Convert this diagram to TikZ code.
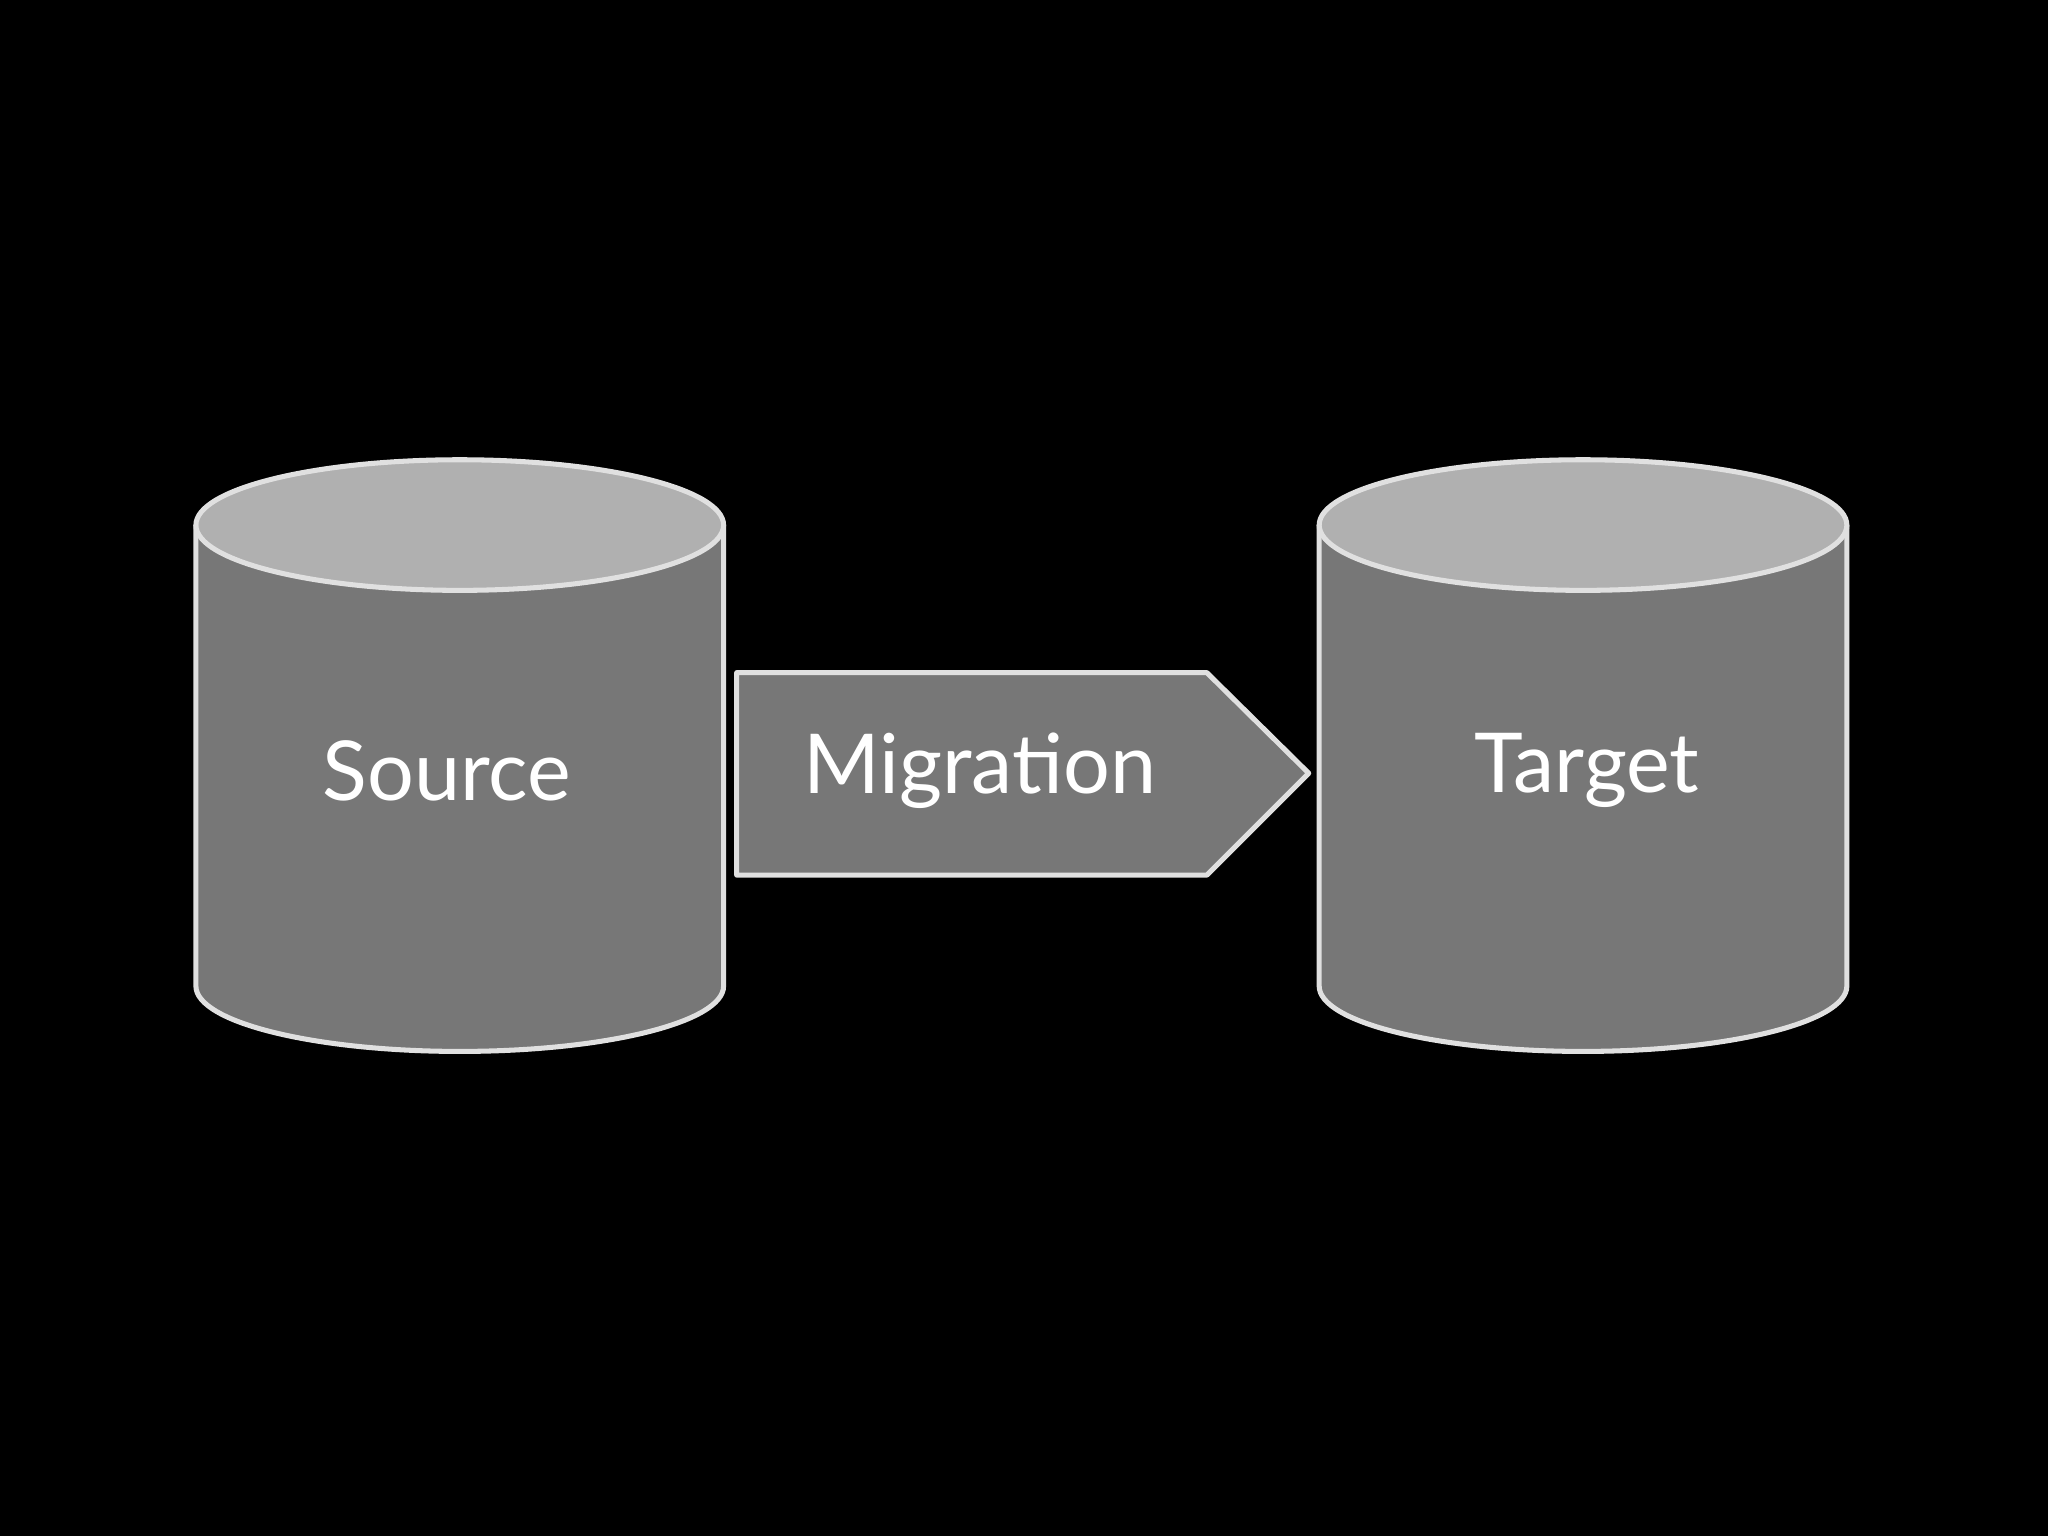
\documentclass[tikz,border=0pt]{standalone}
\usepackage{fontspec}
\setmainfont{Lato}
\definecolor{body}{HTML}{777777}
\definecolor{topc}{HTML}{B0B0B0}
\definecolor{edge}{HTML}{E0E0E0}
\tikzset{
  shp/.style={draw=edge,line width=1.1pt,line join=round},
  lbl/.style={text=white,font=\fontsize{18}{22}\selectfont}
}
\begin{document}
\begin{tikzpicture}[x=0.01cm,y=-0.01cm]
\fill[black] (0,0) rectangle (1568,1176);
\useasboundingbox (0,0) rectangle (1568,1176);
\foreach \cx in {352,1212}{
  \fill[body] (\cx-202,402) -- (\cx-202,755) arc[start angle=180,end angle=360,x radius=202,y radius=-50] -- (\cx+202,402) -- cycle;
  \draw[shp] (\cx-202,402) -- (\cx-202,755) arc[start angle=180,end angle=360,x radius=202,y radius=-50] -- (\cx+202,402);
  \draw[shp,fill=topc] (\cx,402) ellipse[x radius=202,y radius=50];
}
\draw[shp,fill=body] (564,515) -- (924,515) -- (1002,592) -- (924,670) -- (564,670) -- cycle;
\node[lbl] (src) at (342,590) {Source};
\node[lbl] (mig) at (750,590) {Migration};
\node[lbl] (tgt) at (1215,590) {Target};
\end{tikzpicture}
\end{document}
